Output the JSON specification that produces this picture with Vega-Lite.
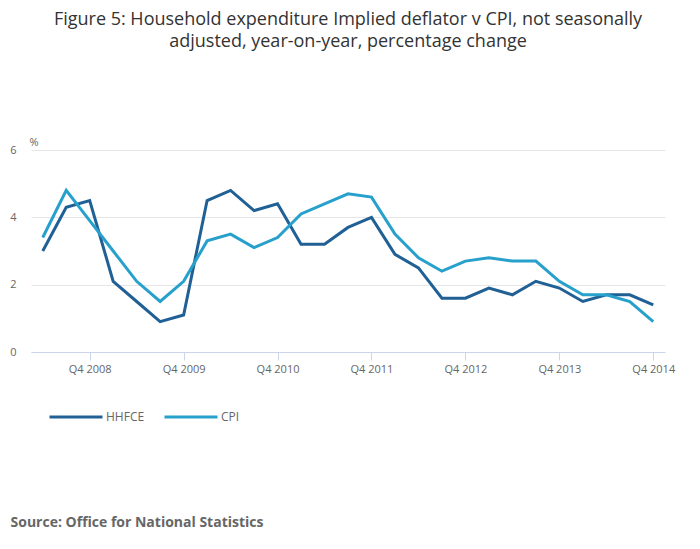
{
  "$schema": "https://vega.github.io/schema/vega-lite/v6.json",
  "autosize": {"type": "none"},
  "width": 634,
  "height": 202,
  "padding": {"left": 31, "top": 150, "right": 35, "bottom": 197},
  "background": "#FFFFFF",
  "title": {
    "text": ["Figure 5: Household expenditure Implied deflator v CPI, not seasonally", "adjusted, year-on-year, percentage change"],
    "anchor": "middle",
    "font": "Open Sans",
    "fontSize": 18,
    "fontWeight": "normal",
    "color": "#333333",
    "lineHeight": 22,
    "offset": 85
  },
  "config": {
    "view": {"stroke": "transparent"},
    "font": "Open Sans"
  },
  "data": {
    "values": [
      {"quarter": "Q2 2008", "series": "HHFCE", "value": 3.0},
      {"quarter": "Q3 2008", "series": "HHFCE", "value": 4.3},
      {"quarter": "Q4 2008", "series": "HHFCE", "value": 4.5},
      {"quarter": "Q1 2009", "series": "HHFCE", "value": 2.1},
      {"quarter": "Q2 2009", "series": "HHFCE", "value": 1.5},
      {"quarter": "Q3 2009", "series": "HHFCE", "value": 0.9},
      {"quarter": "Q4 2009", "series": "HHFCE", "value": 1.1},
      {"quarter": "Q1 2010", "series": "HHFCE", "value": 4.5},
      {"quarter": "Q2 2010", "series": "HHFCE", "value": 4.8},
      {"quarter": "Q3 2010", "series": "HHFCE", "value": 4.2},
      {"quarter": "Q4 2010", "series": "HHFCE", "value": 4.4},
      {"quarter": "Q1 2011", "series": "HHFCE", "value": 3.2},
      {"quarter": "Q2 2011", "series": "HHFCE", "value": 3.2},
      {"quarter": "Q3 2011", "series": "HHFCE", "value": 3.7},
      {"quarter": "Q4 2011", "series": "HHFCE", "value": 4.0},
      {"quarter": "Q1 2012", "series": "HHFCE", "value": 2.9},
      {"quarter": "Q2 2012", "series": "HHFCE", "value": 2.5},
      {"quarter": "Q3 2012", "series": "HHFCE", "value": 1.6},
      {"quarter": "Q4 2012", "series": "HHFCE", "value": 1.6},
      {"quarter": "Q1 2013", "series": "HHFCE", "value": 1.9},
      {"quarter": "Q2 2013", "series": "HHFCE", "value": 1.7},
      {"quarter": "Q3 2013", "series": "HHFCE", "value": 2.1},
      {"quarter": "Q4 2013", "series": "HHFCE", "value": 1.9},
      {"quarter": "Q1 2014", "series": "HHFCE", "value": 1.5},
      {"quarter": "Q2 2014", "series": "HHFCE", "value": 1.7},
      {"quarter": "Q3 2014", "series": "HHFCE", "value": 1.7},
      {"quarter": "Q4 2014", "series": "HHFCE", "value": 1.4},
      {"quarter": "Q2 2008", "series": "CPI", "value": 3.4},
      {"quarter": "Q3 2008", "series": "CPI", "value": 4.8},
      {"quarter": "Q4 2008", "series": "CPI", "value": 3.9},
      {"quarter": "Q1 2009", "series": "CPI", "value": 3.0},
      {"quarter": "Q2 2009", "series": "CPI", "value": 2.1},
      {"quarter": "Q3 2009", "series": "CPI", "value": 1.5},
      {"quarter": "Q4 2009", "series": "CPI", "value": 2.1},
      {"quarter": "Q1 2010", "series": "CPI", "value": 3.3},
      {"quarter": "Q2 2010", "series": "CPI", "value": 3.5},
      {"quarter": "Q3 2010", "series": "CPI", "value": 3.1},
      {"quarter": "Q4 2010", "series": "CPI", "value": 3.4},
      {"quarter": "Q1 2011", "series": "CPI", "value": 4.1},
      {"quarter": "Q2 2011", "series": "CPI", "value": 4.4},
      {"quarter": "Q3 2011", "series": "CPI", "value": 4.7},
      {"quarter": "Q4 2011", "series": "CPI", "value": 4.6},
      {"quarter": "Q1 2012", "series": "CPI", "value": 3.5},
      {"quarter": "Q2 2012", "series": "CPI", "value": 2.8},
      {"quarter": "Q3 2012", "series": "CPI", "value": 2.4},
      {"quarter": "Q4 2012", "series": "CPI", "value": 2.7},
      {"quarter": "Q1 2013", "series": "CPI", "value": 2.8},
      {"quarter": "Q2 2013", "series": "CPI", "value": 2.7},
      {"quarter": "Q3 2013", "series": "CPI", "value": 2.7},
      {"quarter": "Q4 2013", "series": "CPI", "value": 2.1},
      {"quarter": "Q1 2014", "series": "CPI", "value": 1.7},
      {"quarter": "Q2 2014", "series": "CPI", "value": 1.7},
      {"quarter": "Q3 2014", "series": "CPI", "value": 1.5},
      {"quarter": "Q4 2014", "series": "CPI", "value": 0.9}
    ]
  },
  "mark": {"type": "line", "strokeWidth": 3, "interpolate": "linear"},
  "encoding": {
    "x": {
      "field": "quarter",
      "type": "ordinal",
      "sort": null,
      "scale": {"type": "point", "padding": 0.5},
      "axis": {
        "values": ["Q4 2008", "Q4 2009", "Q4 2010", "Q4 2011", "Q4 2012", "Q4 2013", "Q4 2014"],
        "labelAngle": 0,
        "labelFontSize": 11,
        "labelColor": "#666666",
        "labelPadding": 3,
        "tickSize": 8,
        "tickColor": "#ccd6eb",
        "domainColor": "#ccd6eb",
        "grid": false,
        "title": "Source: Office for National Statistics",
        "titleFontSize": 14,
        "titleFontWeight": "bold",
        "titleColor": "#666666",
        "titleAnchor": "start",
        "titleAlign": "left",
        "titleBaseline": "middle",
        "titleX": -21,
        "titleY": 170
      }
    },
    "y": {
      "field": "value",
      "type": "quantitative",
      "scale": {"domain": [0, 6]},
      "axis": {
        "values": [0, 2, 4, 6],
        "domain": false,
        "ticks": false,
        "gridColor": "#e6e6e6",
        "labelFontSize": 11,
        "labelColor": "#666666",
        "labelPadding": 15,
        "title": "%",
        "titleAngle": 0,
        "titleFontSize": 11,
        "titleFontWeight": "normal",
        "titleColor": "#666666",
        "titleAlign": "left",
        "titleBaseline": "middle",
        "titleX": -2,
        "titleY": -8
      }
    },
    "color": {
      "field": "series",
      "type": "nominal",
      "scale": {"domain": ["HHFCE", "CPI"], "range": ["#206095", "#27a0cc"]},
      "legend": {
        "title": null,
        "orient": "none",
        "direction": "horizontal",
        "legendX": 17,
        "legendY": 239,
        "symbolType": "stroke",
        "symbolSize": 2809,
        "symbolStrokeWidth": 3,
        "labelFontSize": 12,
        "labelColor": "#666666",
        "labelOffset": 2,
        "columnPadding": 13
      }
    }
  }
}
